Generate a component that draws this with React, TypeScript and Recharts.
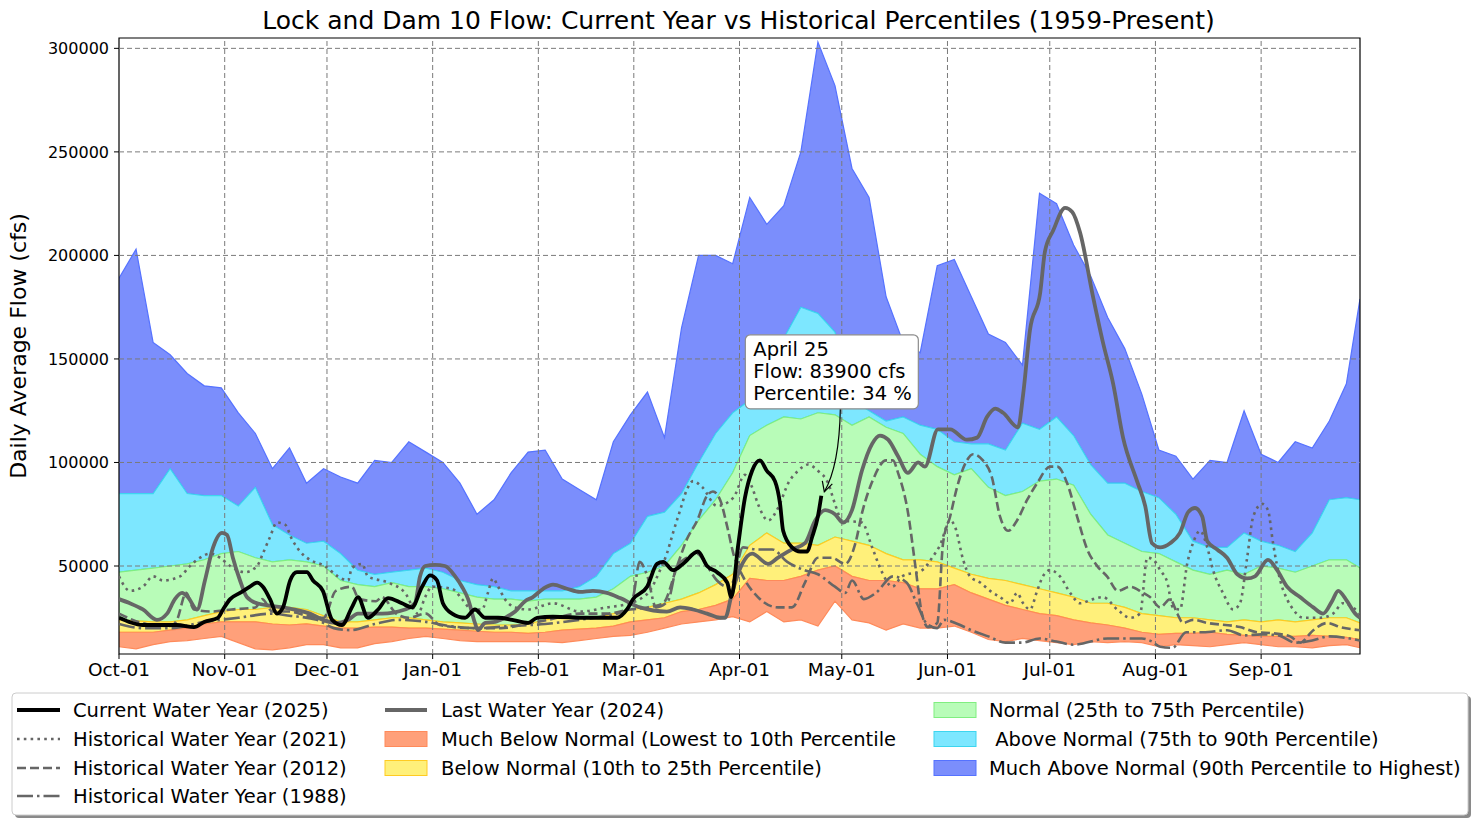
import React from 'react';
import {
  ComposedChart, Area, Line, XAxis, YAxis, ReferenceLine, ReferenceArea, ReferenceDot,
} from 'recharts';

const FONT = '"DejaVu Sans", Verdana, sans-serif';

// ---- percentile band data (day of water year, flows in thousand cfs) ----
const gridDays = [0,5,10,15,20,25,30,35,40,45,50,55,60,65,70,75,80,85,90,95,100,105,110,115,120,125,130,135,140,145,150,155,160,165,170,175,180,185,190,195,200,205,210,215,220,225,230,235,240,245,250,255,260,265,270,275,280,285,290,295,300,305,310,315,320,325,330,335,340,345,350,355,360,364];
const minK = [11,10,12,13.5,14,15,16,13,10,9.5,10.5,12,12,10.5,10.5,12.5,13.5,15,16,15,14,13.5,13.5,13.5,13.5,13.5,13,14,15,16,16.5,18,20,22,23,24,25.5,23,28,23,24,21,33,24,22.5,19,22,20,20,21,18,14.5,13.5,15,14,13,12,13.5,13,13.5,13,11,12,11.5,11,12,13,12,11,11,10.5,11.5,12,10.5];
const p10K = [18,18,18,19,20,22,23,23,23,22,21.5,22,21,20,20,20.5,20.5,20,20,19.5,19,18.5,18,18,17.5,18,19,19.5,20,21,23,24,25,28,29,31,34,44,43,43,45,48,50,45,43,43,42,39,39,41,37,34,31,29,27,26,24,22.5,21.5,20,18,17,17.5,17.5,18,17,16.5,16,16,16,16.5,16,15.5,14.5];
const p25K = [24,23.5,23,23,24,26,28,29,29,30,30,29,26,23,23,24,25,25,24,23,22.5,22,21.5,21.5,22,24,25,25,25,27,29,30,32,34,37,41,46,60,66,61,61,60,64,62,60,56,53,53,52,49,46,44,43,41,39,37,35,32,32,30,27,26,25,25,24,23,24,23,24,23,24,25,25,22.5];
const p75K = [47,48,49,50,51,53,56,57,54,52,53,52,50,43,41,40,42,40,40,39,37,35,34,34,33,34,34,34,35,39,45,47,50,60,72,82,95,113,118,122,121,124,123,118,122,117,114,104,98,94,97,88,84,86,91,92,89,75,65,61,57,56,52,48,46,48,46,50,49,47,50,53,53,49];
const p90K = [85,85,85,97,85,84,84,79,88,70,65,61,62,56,48,46,47,48,49,47,43,41,40,38,38,38,38,40,45,56,61,74,76,85,100,114,124,130,140,160,175,172,163,130,125,120,122,118,116,110,109,109,106,119,116,122,113,99,90,90,86,83,75,62,59,59,66,62,60,57,66,82,83,82];
const maxK = [189,203,158,152,143,137,136,124,114,97,107,90,97,93,90,101,100,110,105,100,90,75,82,95,105,106,92,87,82,110,123,134,112,165,200,200,196,228,215,224,250,303,282,242,228,180,158,153,195,198,180,162,158,147,230,225,205,190,170,155,133,106,103,92,101,100,125,104,100,110,107,120,138,179];

// ---- individual water years (day of water year, flows in thousand cfs) ----
const curDays = [0,3,7,17,22,25,29,30.5,32.6,35.5,38.4,40.5,42.2,44.3,46.3,48.1,50.2,52.2,55.1,56.9,59.8,62.5,65.4,68.3,70.1,73,76,78.9,83,85.9,88.9,91.2,93.3,95,97.7,101.5,104.4,107.4,111.2,115.3,120,122.6,127.3,137.3,146.1,149,150.8,154.9,157.8,159.6,162.5,165.4,169.8,172.5,175.4,178.4,179.6,181.6,183.6,185.7,188,190,192.4,193.9,194.8,197.4,199.8,201.8,203.3,205,206];
const curFlowK = [25,23,21.5,21.5,20.5,23,25,29,34,37,40,42,40,34,27,30,43,47,47,43,38,24,21.5,30,35,25,29,34.5,32,30,40,45.5,43,32,27,25,29,25,25,24,22.5,25,25.5,25,25,29,34,40,51,52,48,51,57,50,47,42,35,60,83,96,101,96,91,80,67,59,57,57,64,74,83.9];

const lastDays = [0,3.2,7,11.1,14.1,16.4,18.5,20.2,22.9,25.2,27.6,30.2,31.7,33.4,35.5,37.5,40.5,48.1,56,59.8,64.2,67.2,70.1,77.1,83.9,86.8,88.3,89.8,92.7,95.6,98.6,100.6,102.4,104.4,105.3,107.4,110.3,113.2,116.2,119.1,121.4,124.4,127.3,131.4,135.2,139,143.1,147,152.8,160.7,164.6,168.4,172.5,176.3,177.8,179.8,182.8,185.7,190.4,193.3,197.4,201.2,204.2,207.1,210,212.4,215,217.9,220.9,223.2,225.6,228.5,231.4,234.4,236.4,240.2,243.8,248.7,251.7,254.6,257,259.3,263.7,265.2,267.2,270.2,271.6,274,277.5,279.6,281.9,285.7,288.6,291.6,294.5,298.6,301,303,305.4,308.3,311.2,313.6,315.6,317.7,319.2,322.1,325,328,330.9,333.2,337,339.7,342.6,346.4,350.3,353.2,355.8,357.6,360.2,362.6,364];
const lastFlowK = [34,32,29,24,27,34,37,35,29,43,59,66,65,54,43,35,32,30,27,24,22.5,24,27,27,29,32,45,50,50.5,50,45,40,34,22.5,19,22.5,23,25,28,33,35,39,41,39,37.5,38,37,34.5,30,28,30,29,27,25,25,37,51,56,51,54,58,61,72,77,75,71,77,96,109,113,111,103,95,100,98,116,116,111,112,122,126,124,117,133,164,182,202,212,223,221,211,180,158,138,112,91,79,61,59,61,66,76,78,74,62,58,54,46,44,45,53,48,40,35,30,27,33,38,33,27,25];

const y2021Days = [0,3.2,7,10,12.9,17.9,20.8,23.8,26.7,29.6,32.6,37,40.5,42.2,44.3,46.3,48.7,50.7,53.1,56,60.4,64.2,67.2,68.3,71.3,73,78.9,83.9,87.7,89.8,91.8,97.7,100.6,103.5,106.5,108.2,109.7,111.2,113.2,116.2,120,127.3,135.2,143.1,149.9,152.8,155.7,158.7,160.7,162.5,164.6,166.6,168.4,171.1,175.4,180.2,183.6,185.7,187.4,190.4,193.3,196.3,199.2,202.1,205,208,210,212.1,217.9,220.9,223.8,226.8,229.7,235.6,238.5,240.8,243.8,245.2,247.6,249.6,252.6,255.5,258.4,261.4,263.4,265.2,267.2,269.3,271,273.1,276,279,281.9,285.7,288.6,292.8,296.6,299.5,301.6,303.4,305.4,307.5,309.1,311.2,313.3,315,317.1,319.2,320.9,323.8,326.8,328.8,330.9,332.7,335.3,337,338.5,340.6,342.6,344.4,347.3,352.3,356.1,359,361.9,364];
const y2021FlowK = [45,38,40,45,43,45,50,54,56,54,50,47,50,56,64,71,70,63,57,53,50,45,43,49,51,45,42,37,27,35,40,39,34,29,29,37,44,40,34,30,29,32,28,30,32,34,38,48,56,66,77,87,91,88,79,83,94,88,80,72,78,90,96,99,96,90,80,72,71,59,47,40,45,48,54,60,72,69,53,45,42,38,35,32,37,32,29,38,45,48,45,37,32,34,35,29,25,27,54,53,48,42,30,29,51,61,67,59,48,37,29,32,54,74,80,77,61,43,34,29,25,25,27,32,30,27];

const y2012Days = [0,8,15,17,19.7,22,27,33,40,42,45,50,55,60,63.6,68.3,70.4,75.4,77.1,81.3,85,90,94,103.5,112,121,126,135,143,150,155,159.6,163.7,166.6,169.6,172.5,174.2,176.3,178.4,180.2,183,187.4,193.3,197.4,201.2,205,209,213,216,218,221,225,227,228.5,231.4,233.5,235.5,237.3,240,241.7,243.8,245.8,248.7,250.5,253.4,256,258.4,260.8,263.4,266.4,269.3,273.1,275.2,278.1,281,284,286.9,289.8,293,296.6,300.4,302.4,305.4,308.3,310.4,312.1,315,319.2,328.8,333.8,338.5,343.5,346.4,350.3,354.4,358.2,364];
const y2012FlowK = [27,22,21,24,37,29,28,29,30,34,28,28,26,25,38,40,34,33,35,27,25,27,21.5,20,20,22.5,24,27,27,29,30,32,50,63,72,84,86,82,69,56,45,35,30,30,42,54,54,51,61,76,91,101,101,95,76,51,27,20.5,22.5,61,74,88,101,104,101,93,74,67,72,82,90,98,98,90,74,58,50,45,38,40,37,35,30,34,27,22.5,24,22.5,20.5,18,17.5,16,13,19,22.5,20.5,19];

const y1988Days = [0,7,15,25,35,45,50,58,63,68,75,82,90,97,105,115,125,135,143,148,150.8,152.7,155,157.5,161,163.7,166.6,169.6,172.5,175.4,178.4,180,183,187,191.6,196,201,205,210,213,215,218.5,222,227,231,234,237,240,242,246,250,255,260,265,270,275,280,290,300,303,305.4,309,313,318,325,330,335,340,345,350,355,364];
const y1988FlowK = [22,20,20,23,25,27,26,24,20,19,22,24,23,21,20,21,22,24,26,28,35,52,45,30,33,50,54,56,50,43,40,42,59,58,58,52,48,46,40,37,43,34,37,45,42,32,22,20,24,22,19,16,13,13,15,13.5,12,15,15,13.5,11,10.5,18,18,19,16.5,17,16.5,13,14,16,14];

// ---- axes ----
const monthTickDays = [0,31,61,92,123,151,182,212,243,273,304,335];
const monthTickLabels = ['Oct-01','Nov-01','Dec-01','Jan-01','Feb-01','Mar-01','Apr-01','May-01','Jun-01','Jul-01','Aug-01','Sep-01'];
const flowTicks = [50000,100000,150000,200000,250000,300000];
const yDomain = [7500, 305000];
const xDomain = [0, 364];

// ---- annotation ----
const annoDay = 206;
const annoFlow = 83900;
const annoLines = ['April 25', 'Flow: 83900 cfs', 'Percentile: 34 %'];

const K = 1000;
const bandRows = gridDays.map((day, i) => ({
  day,
  mb: [minK[i] * K, p10K[i] * K],
  bn: [p10K[i] * K, p25K[i] * K],
  nm: [p25K[i] * K, p75K[i] * K],
  an: [p75K[i] * K, p90K[i] * K],
  ma: [p90K[i] * K, maxK[i] * K],
}));
const toRows = (days: number[], flows: number[]) => days.map((day, i) => ({ day, v: flows[i] * K }));
const curRows = toRows(curDays, curFlowK);
const lastRows = toRows(lastDays, lastFlowK);
const rows2021 = toRows(y2021Days, y2021FlowK);
const rows2012 = toRows(y2012Days, y2012FlowK);
const rows1988 = toRows(y1988Days, y1988FlowK);

const C = {
  ma: { fill: '#7b8efc', stroke: '#5572ff' },
  an: { fill: '#7de7ff', stroke: '#3dd5ef' },
  nm: { fill: '#b8fcb8', stroke: '#80ee80' },
  bn: { fill: '#fff07a', stroke: '#ffcb22' },
  mb: { fill: '#ffa07a', stroke: '#ff8a5a' },
};
const GRAY = '#666666';
const LEGEND_FS = 19.5;

const monthLabel = (v: number) => {
  const i = monthTickDays.indexOf(v);
  return i >= 0 ? monthTickLabels[i] : '';
};

const Annotation = (props: any) => {
  const { cx, cy } = props;
  if (cx == null || cy == null) return null;
  const bx = cx - 76, by = cy - 161, bw = 173, bh = 74;
  const sx = cx + 19, sy = by + bh;
  const tx = cx + 3, ty = cy - 4;
  return (
    <g>
      <path d={`M${sx},${sy} Q${cx + 18},${cy - 30} ${tx},${ty}`} fill="none" stroke="#000" strokeWidth={1.2} />
      <path d={`M${tx - 2},${ty - 11} L${tx},${ty} L${tx + 8},${ty - 8}`} fill="none" stroke="#000" strokeWidth={1.2} />
      <rect x={bx} y={by} width={bw} height={bh} rx={5} ry={5} fill="#fff" stroke="#8c8c8c" strokeWidth={1.2} />
      {annoLines.map((t, i) => (
        <text key={i} x={bx + 8} y={by + 21 + i * 22} fontSize={19.5} fontFamily={FONT} fill="#000">{t}</text>
      ))}
    </g>
  );
};

const legendRows = [710, 739, 768, 796];

export default function App() {
  return (
    <div style={{ position: 'absolute', left: 0, top: 0, width: 1477, height: 824, background: '#fff', fontFamily: FONT }}>
      <ComposedChart
        width={1477}
        height={824}
        data={bandRows}
        margin={{ top: 38, right: 117, bottom: 140, left: 59 }}
      >
        <XAxis
          dataKey="day"
          type="number"
          domain={xDomain}
          ticks={monthTickDays}
          tickFormatter={monthLabel}
          allowDataOverflow
          axisLine={false}
          tickLine={{ stroke: '#000' }}
          tickSize={5}
          tickMargin={4}
          height={30}
          tick={{ fill: '#000', fontSize: 18.5, fontFamily: FONT }}
        />
        <YAxis
          type="number"
          domain={yDomain}
          ticks={flowTicks}
          allowDataOverflow
          axisLine={false}
          tickLine={{ stroke: '#000' }}
          tickSize={5}
          tickMargin={5}
          width={60}
          tick={{ fill: '#000', fontSize: 16, fontFamily: FONT }}
        />
        <Area type="linear" dataKey="ma" fill={C.ma.fill} fillOpacity={1} stroke={C.ma.stroke} strokeWidth={1.2} isAnimationActive={false} dot={false} activeDot={false} />
        <Area type="linear" dataKey="an" fill={C.an.fill} fillOpacity={1} stroke={C.an.stroke} strokeWidth={1.2} isAnimationActive={false} dot={false} activeDot={false} />
        <Area type="linear" dataKey="nm" fill={C.nm.fill} fillOpacity={1} stroke={C.nm.stroke} strokeWidth={1.2} isAnimationActive={false} dot={false} activeDot={false} />
        <Area type="linear" dataKey="bn" fill={C.bn.fill} fillOpacity={1} stroke={C.bn.stroke} strokeWidth={1.2} isAnimationActive={false} dot={false} activeDot={false} />
        <Area type="linear" dataKey="mb" fill={C.mb.fill} fillOpacity={1} stroke={C.mb.stroke} strokeWidth={1.2} isAnimationActive={false} dot={false} activeDot={false} />
        {monthTickDays.slice(1).map((d) => (
          <ReferenceLine key={'gx' + d} x={d} stroke="#7a7a7a" strokeDasharray="5 3" strokeWidth={1} />
        ))}
        {flowTicks.map((v) => (
          <ReferenceLine key={'gy' + v} y={v} stroke="#7a7a7a" strokeDasharray="5 3" strokeWidth={1} />
        ))}
        <Line data={rows1988} dataKey="v" type="monotone" stroke={GRAY} strokeWidth={2.6} strokeDasharray="16 4 2.5 4" dot={false} activeDot={false} isAnimationActive={false} />
        <Line data={rows2012} dataKey="v" type="monotone" stroke={GRAY} strokeWidth={2.6} strokeDasharray="9 4" dot={false} activeDot={false} isAnimationActive={false} />
        <Line data={rows2021} dataKey="v" type="monotone" stroke={GRAY} strokeWidth={2.6} strokeDasharray="2.6 4.2" dot={false} activeDot={false} isAnimationActive={false} />
        <Line data={lastRows} dataKey="v" type="monotone" stroke={GRAY} strokeWidth={3.8} dot={false} activeDot={false} isAnimationActive={false} />
        <Line data={curRows} dataKey="v" type="monotone" stroke="#000" strokeWidth={3.8} dot={false} activeDot={false} isAnimationActive={false} />
        <ReferenceArea x1={xDomain[0]} x2={xDomain[1]} y1={yDomain[0]} y2={yDomain[1]} fill="none" fillOpacity={0} stroke="#000" strokeWidth={1.2} ifOverflow="visible" />
        <ReferenceDot x={annoDay} y={annoFlow} r={0} ifOverflow="visible" shape={Annotation} />
      </ComposedChart>

      <svg width={1477} height={824} style={{ position: 'absolute', left: 0, top: 0, pointerEvents: 'none' }}>
        <text x={738.5} y={29} textAnchor="middle" fontSize={25} fontFamily={FONT} fill="#000">
          Lock and Dam 10 Flow: Current Year vs Historical Percentiles (1959-Present)
        </text>
        <text transform="translate(26,346) rotate(-90)" textAnchor="middle" fontSize={22} fontFamily={FONT} fill="#000">
          Daily Average Flow (cfs)
        </text>

        {/* legend frame */}
        <rect x={15} y={696} width={1456} height={122} rx={4} fill="#8a8a8a" />
        <rect x={12} y={693} width={1456} height={122} rx={4} fill="#fff" stroke="#cccccc" strokeWidth={1} />

        {/* column 1 */}
        <line x1={17} x2={60} y1={legendRows[0]} y2={legendRows[0]} stroke="#000" strokeWidth={3.8} />
        <line x1={17} x2={60} y1={legendRows[1]} y2={legendRows[1]} stroke={GRAY} strokeWidth={2.6} strokeDasharray="2.6 4.2" />
        <line x1={17} x2={60} y1={legendRows[2]} y2={legendRows[2]} stroke={GRAY} strokeWidth={2.6} strokeDasharray="9 4" />
        <line x1={17} x2={60} y1={legendRows[3]} y2={legendRows[3]} stroke={GRAY} strokeWidth={2.6} strokeDasharray="16 4 2.5 4" />
        {['Current Water Year (2025)', 'Historical Water Year (2021)', 'Historical Water Year (2012)', 'Historical Water Year (1988)'].map((t, i) => (
          <text key={'c1' + i} x={73} y={legendRows[i]} dy="0.36em" fontSize={LEGEND_FS} fontFamily={FONT} fill="#000">{t}</text>
        ))}

        {/* column 2 */}
        <line x1={385} x2={427} y1={legendRows[0]} y2={legendRows[0]} stroke={GRAY} strokeWidth={3.8} />
        <rect x={385} y={legendRows[1] - 7.5} width={42} height={15} fill={C.mb.fill} stroke={C.mb.stroke} />
        <rect x={385} y={legendRows[2] - 7.5} width={42} height={15} fill={C.bn.fill} stroke={C.bn.stroke} />
        {['Last Water Year (2024)', 'Much Below Normal (Lowest to 10th Percentile', 'Below Normal (10th to 25th Percentile)'].map((t, i) => (
          <text key={'c2' + i} x={441} y={legendRows[i]} dy="0.36em" fontSize={LEGEND_FS} fontFamily={FONT} fill="#000">{t}</text>
        ))}

        {/* column 3 */}
        <rect x={934} y={legendRows[0] - 7.5} width={42} height={15} fill={C.nm.fill} stroke={C.nm.stroke} />
        <rect x={934} y={legendRows[1] - 7.5} width={42} height={15} fill={C.an.fill} stroke={C.an.stroke} />
        <rect x={934} y={legendRows[2] - 7.5} width={42} height={15} fill={C.ma.fill} stroke={C.ma.stroke} />
        {['Normal (25th to 75th Percentile)', '\u00a0Above Normal (75th to 90th Percentile)', 'Much Above Normal (90th Percentile to Highest)'].map((t, i) => (
          <text key={'c3' + i} x={989} y={legendRows[i]} dy="0.36em" fontSize={LEGEND_FS} fontFamily={FONT} fill="#000">{t}</text>
        ))}
      </svg>
    </div>
  );
}
